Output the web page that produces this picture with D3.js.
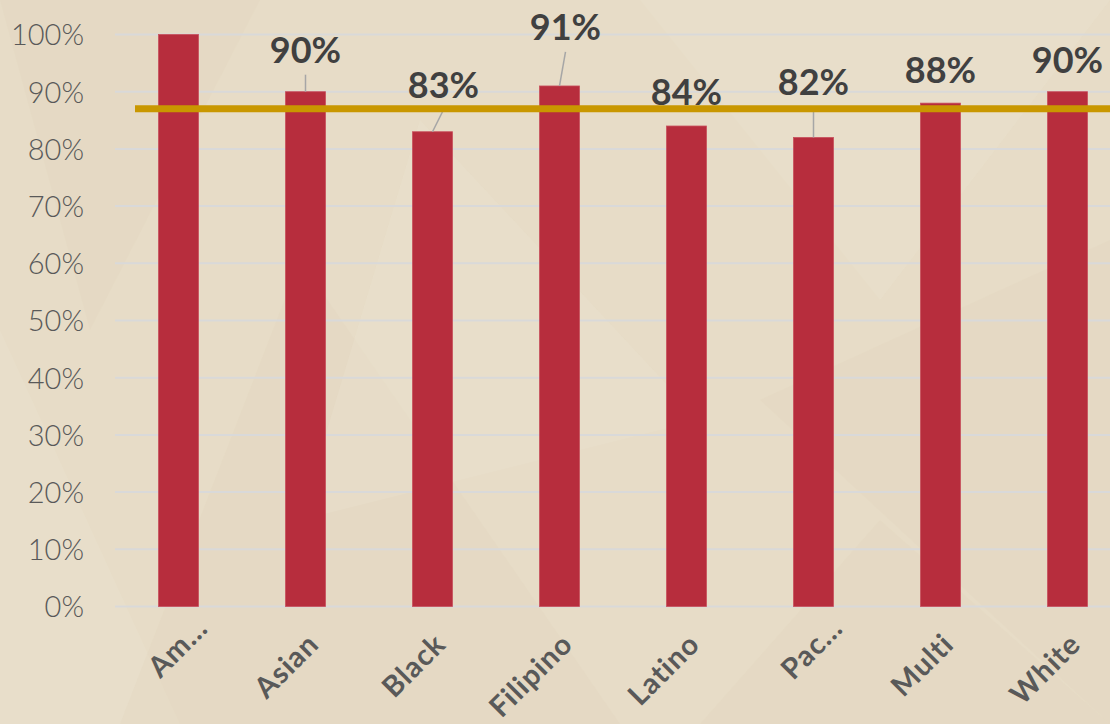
<!DOCTYPE html>
<html lang="en">
<head>
<meta charset="UTF-8">
<title>Rates by group</title>
<script src="https://cdnjs.cloudflare.com/ajax/libs/d3/7.8.5/d3.min.js"></script>
<style>
  body { margin: 0; background: #e7dcc7; }
  svg { display: block; }
  .ytick text { font-family: Lato, "Noto Sans", sans-serif; font-weight: 300; font-size: 29px; fill: #595959; }
  .xlab { font-family: Lato, "Noto Sans", sans-serif; font-weight: 700; font-size: 29px; fill: #595959; letter-spacing: 1px; }
  .vlab { font-family: Lato, "Noto Sans", sans-serif; font-weight: 700; font-size: 36px; fill: #404040; }
</style>
</head>
<body>
<div id="chart"></div>
<script>
// data
var categories = ["Am\u2026", "Asian", "Black", "Filipino", "Latino", "Pac\u2026", "Multi", "White"];
var values = [1.00, 0.90, 0.83, 0.91, 0.84, 0.82, 0.88, 0.90];
var benchmark = 0.87;
var yTicks = [0, 0.1, 0.2, 0.3, 0.4, 0.5, 0.6, 0.7, 0.8, 0.9, 1.0];

// hand-placed data label offsets (relative to bar centre / bar top); null = label not shown
var labelDx = [0, 0, 11, 6, 0, 0, 0, 0];
var labelDy = [null, -29, -34, -46, -21, -42, -20, -19];

var W = 1110, H = 724;

var svg = d3.select("#chart").append("svg")
    .attr("width", W)
    .attr("height", H);

// background texture, a few soft facets
var bg = svg.append("g");
bg.append("rect").attr("width", W).attr("height", H).attr("fill", "#e7dcc7");
var facets = [
  [[0,0],[260,0],[90,330]],
  [[0,330],[180,724],[0,724]],
  [[300,260],[620,724],[120,724]],
  [[640,0],[1110,0],[880,300]],
  [[760,400],[1110,240],[1110,724]],
  [[420,120],[700,420],[300,520]],
  [[880,520],[1110,724],[700,724]]
];
bg.selectAll("polygon").data(facets).enter().append("polygon")
    .attr("points", function(d) { return d.join(" "); })
    .attr("fill", function(d, i) { return i % 2 ? "#ece3d2" : "#e0d4be"; })
    .attr("opacity", 0.3);

var x = d3.scaleBand()
    .domain(categories)
    .range([115, 1131])
    .paddingInner(0.685)
    .paddingOuter(0.3425);

var y = d3.scaleLinear()
    .domain([0, 1])
    .range([606.5, 34.5]);

// gridlines
svg.append("g").selectAll("line").data(yTicks).enter().append("line")
    .attr("x1", 115).attr("x2", W)
    .attr("y1", function(d) { return y(d); })
    .attr("y2", function(d) { return y(d); })
    .attr("stroke", "#d9d9d9")
    .attr("stroke-width", 2);

// y axis
var yAxis = svg.append("g")
    .attr("class", "ytick")
    .attr("transform", "translate(84,0)")
    .call(d3.axisLeft(y).tickValues(yTicks).tickFormat(d3.format(".0%")).tickSize(0).tickPadding(0));
yAxis.select(".domain").remove();
yAxis.selectAll("text").attr("dy", "0.36em");

// bars
svg.append("g").selectAll("rect").data(values).enter().append("rect")
    .attr("x", function(d, i) { return x(categories[i]); })
    .attr("y", function(d) { return y(d); })
    .attr("width", x.bandwidth())
    .attr("height", function(d) { return y(0) - y(d); })
    .attr("fill", "#b72d3d")
    .attr("stroke", "#c8505c")
    .attr("stroke-width", 0.8);

// x labels
svg.append("g").selectAll("text").data(categories).enter().append("text")
    .attr("class", "xlab")
    .attr("text-anchor", "end")
    .attr("transform", function(d, i) {
      var cx = x(d) + x.bandwidth() / 2;
      var shift = d.indexOf("\u2026") >= 0 ? 16 : 0;
      return "translate(" + (cx + 15 + shift) + "," + (646 - shift) + ") rotate(-45)";
    })
    .text(function(d) { return d; });

// data labels + leader lines
var lab = svg.append("g");
values.forEach(function(v, i) {
  if (labelDy[i] === null) return;
  var cx = x(categories[i]) + x.bandwidth() / 2;
  var top = y(v);
  var lx = cx + labelDx[i], ly = top + labelDy[i];
  if (top - ly > 25) {
    lab.append("line")
      .attr("x1", cx).attr("y1", top)
      .attr("x2", lx).attr("y2", ly + 12)
      .attr("stroke", "#a6a6a6")
      .attr("stroke-width", 1.5);
  }
  lab.append("text")
    .attr("class", "vlab")
    .attr("x", lx).attr("y", ly)
    .attr("text-anchor", "middle")
    .text(d3.format(".0%")(v));
});

// benchmark line
svg.append("line")
    .attr("x1", 135).attr("x2", W)
    .attr("y1", y(benchmark)).attr("y2", y(benchmark))
    .attr("stroke", "#c99700")
    .attr("stroke-width", 7);
</script>
</body>
</html>
